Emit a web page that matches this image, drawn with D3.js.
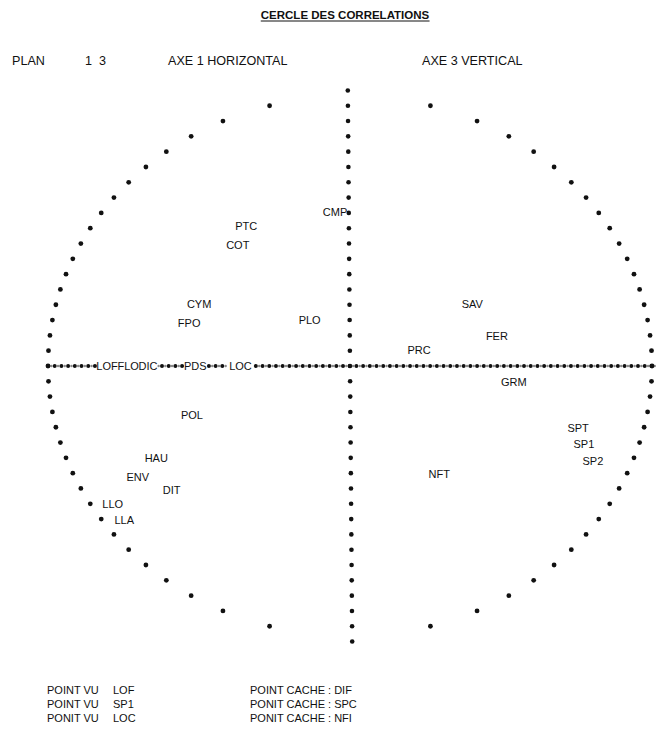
<!DOCTYPE html>
<html lang="fr">
<head>
<meta charset="utf-8">
<title>Cercle des correlations</title>
<script src="https://cdn.jsdelivr.net/npm/d3@7"></script>
<style>
    body { margin: 0; background: #fff; }
    text { font-family: "Liberation Sans", Arial, sans-serif; fill: #111; }
</style>
</head>
<body>
<svg id="chart" width="656" height="742"></svg>
<script>
var vars = ['CMP', 'PTC', 'COT', 'CYM', 'FPO', 'PLO',
            'LOF', 'FLO', 'DIC', 'PDS', 'LOC',
            'SAV', 'FER', 'PRC', 'GRM', 'SPT', 'SP1', 'SP2', 'NFT',
            'POL', 'HAU', 'ENV', 'DIT', 'LLO', 'LLA'];
var axe1 = [-0.09, -0.38, -0.41, -0.54, -0.57, -0.17,
            -0.84, -0.77, -0.70, -0.55, -0.40,
             0.37,  0.45,  0.19,  0.50,  0.72,  0.74,  0.77,  0.26,
            -0.56, -0.68, -0.74, -0.62, -0.82, -0.78];
var axe3 = [ 0.57,  0.52,  0.45,  0.23,  0.16,  0.17,
             0,     0,     0,     0,     0,
             0.23,  0.11,  0.06, -0.06, -0.23, -0.29, -0.35, -0.40,
            -0.18, -0.34, -0.41, -0.46, -0.51, -0.57];

var vuPrefix    = ['POINT VU', 'POINT VU', 'PONIT VU'];
var vuNames     = ['LOF', 'SP1', 'LOC'];
var cachePrefix = ['POINT CACHE', 'PONIT CACHE', 'PONIT CACHE'];
var cacheNames  = ['DIF', 'SPC', 'NFI'];

var title  = 'CERCLE DES CORRELATIONS';
var plan   = '1  3';
var axeH   = 'AXE 1 HORIZONTAL';
var axeV   = 'AXE 3 VERTICAL';

// line printer grid, in correlation units
var rowStep = 0.0567;   // one printed line
var colStep = 0.0222;   // one printed column

var cx = 350, cy = 366, rx = 302, ry = 270;
var x = d3.scaleLinear().domain([-1, 1]).range([cx - rx, cx + rx]);
var y = d3.scaleLinear().domain([-1, 1]).range([cy + ry, cy - ry]);

var svg = d3.select('#chart');
var dots = svg.append('g');
var txt = svg.append('g');

// header
var t = txt.append('text')
    .attr('x', 345).attr('y', 19)
    .attr('text-anchor', 'middle')
    .attr('font-size', '11.5px')
    .attr('font-weight', 'bold')
    .text(title);
var tb = t.node().getBBox();
txt.append('line')
    .attr('x1', tb.x).attr('x2', tb.x + tb.width)
    .attr('y1', 21).attr('y2', 21)
    .attr('stroke', '#111').attr('stroke-width', 1);

[[12, 'PLAN'], [85, plan], [168, axeH], [422, axeV]].forEach(function (h) {
    txt.append('text')
        .attr('x', h[0]).attr('y', 64.5)
        .attr('font-size', '12.6px')
        .attr('xml:space', 'preserve')
        .text(h[1]);
});

// variable labels
var labels = txt.selectAll('.lbl')
    .data(vars.map(function (v, i) { return {name: v, a: axe1[i], b: axe3[i]}; }))
    .enter().append('text')
    .attr('class', 'lbl')
    .attr('x', function (d) { return x(d.a); })
    .attr('y', function (d) { return y(d.b) + 4; })
    .attr('font-size', '11px')
    .text(function (d) { return d.name; });

var boxes = [];
labels.each(function () {
    var b = this.getBBox();
    boxes.push({x0: b.x - 1, x1: b.x + b.width + 1, y0: b.y, y1: b.y + b.height});
});
function free(px, py) {
    return !boxes.some(function (b) {
        return px >= b.x0 && px <= b.x1 && py >= b.y0 && py <= b.y1;
    });
}

// vertical axis
var vRows = d3.range(-18, 19).map(function (k) { return k * rowStep; });
dots.selectAll('.va')
    .data(vRows.filter(function (v) { return free(x(0), y(v)); }))
    .enter().append('circle')
    .attr('class', 'va')
    .attr('cx', function (v) { return x(0) + (y(v) - cy) * 0.008; })
    .attr('cy', function (v) { return y(v); })
    .attr('r', 2.3)
    .attr('fill', '#111');

// horizontal axis: printed dots alternating big / small
var hCols = d3.range(0, Math.round(2.02 / (colStep / 2)) + 1).map(function (i) {
    return {v: -1 + i * colStep / 2, big: i % 2 === 0};
});
dots.selectAll('.ha')
    .data(hCols.filter(function (d) { return free(x(d.v), cy); }))
    .enter().append('circle')
    .attr('class', 'ha')
    .attr('cx', function (d) { return x(d.v); })
    .attr('cy', cy)
    .attr('r', function (d) { return d.big ? 2 : 1.2; })
    .attr('fill', function (d) { return d.big ? '#111' : '#888'; });

// unit circle, one dot per printed line on each side
var cRows = d3.range(-17, 18).map(function (k) { return k * rowStep; });
var cPts = [];
cRows.forEach(function (v) {
    var h = Math.sqrt(1 - v * v);
    cPts.push({a: -h, b: v});
    cPts.push({a: h, b: v});
});
dots.selectAll('.ci')
    .data(cPts.filter(function (d) { return free(x(d.a), y(d.b)); }))
    .enter().append('circle')
    .attr('class', 'ci')
    .attr('cx', function (d) { return x(d.a); })
    .attr('cy', function (d) { return y(d.b); })
    .attr('r', 2.4)
    .attr('fill', '#111');

// footer
vuPrefix.forEach(function (p, i) {
    var yy = 694 + i * 14;
    txt.append('text').attr('x', 47).attr('y', yy).attr('font-size', '11px').text(p);
    txt.append('text').attr('x', 113).attr('y', yy).attr('font-size', '11px').text(vuNames[i]);
    txt.append('text').attr('x', 250).attr('y', yy).attr('font-size', '11px')
        .text(cachePrefix[i] + ' : ' + cacheNames[i]);
});
</script>
</body>
</html>
